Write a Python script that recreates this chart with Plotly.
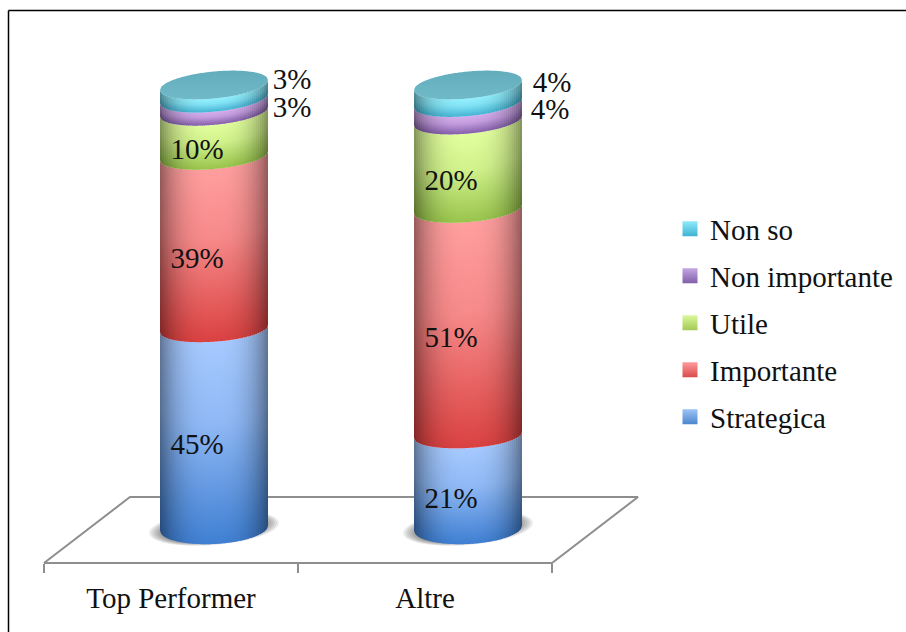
import numpy as np
import plotly.graph_objects as go

# Survey shares per group, stacked bottom to top
categories = ["Top Performer", "Altre"]
series_names = ["Strategica", "Importante", "Utile", "Non importante", "Non so"]
strategica = [45, 21]
importante = [39, 51]
utile = [10, 20]
non_importante = [3, 4]
non_so = [3, 4]
series_values = [strategica, importante, utile, non_importante, non_so]

# Shading per series: light (top of band) to dark (bottom of band)
light = ["#A6C9FF", "#FF9E9E", "#E2FF9E", "#D6AEEE", "#93F0FF"]
dark = ["#3F7FD2", "#DA4141", "#98C44C", "#8460AA", "#46B4D4"]
swatch_light = ["#9CC3F5", "#FF9B9B", "#D9F99B", "#C4A6E4", "#8DEBFB"]
swatch_dark = ["#4A86CE", "#D94A4A", "#A4C855", "#7F5FA8", "#3FB2D2"]

WIDTH, HEIGHT = 906, 632
PX_PER_UNIT = 4.43     # vertical pixels per percentage point
BAND_PX = 254          # horizontal pixels per category
X0_PX, Y0_PX = 171, 528
FLOOR_DX, FLOOR_DY = 86 / BAND_PX, 66 / PX_PER_UNIT
FRONT_Y = -35 / PX_PER_UNIT
DEPTH_SHIFT = 43 / BAND_PX
HALF_WIDTH = 54 / BAND_PX
N_STRIPS = 54
FONT = "Liberation Serif"
FONT_SIZE = 29
TEXT = "#111111"
AXIS_GRAY = "#8E8E8E"


def ry(v):
    return 16 - 3 * min(v / 20, 1) + 0.5 * max(v - 90, 0) / 10


def tilt(v):
    return 2.5 + 2.5 * v / 100


def front_edge(v, t):
    return v + (tilt(v) * t - ry(v) * np.sqrt(np.clip(1 - t ** 2, 0, 1))) / PX_PER_UNIT


def back_edge(v, t):
    return v + (tilt(v) * t + ry(v) * np.sqrt(np.clip(1 - t ** 2, 0, 1))) / PX_PER_UNIT


def rgb_of(hex_color):
    return np.array([int(hex_color[i:i + 2], 16) for i in (1, 3, 5)], dtype=float)


def shade(rgb, f):
    return "rgb(%d,%d,%d)" % tuple(int(round(c * f)) for c in rgb)


def brightness(t):
    return 1 - 0.42 * abs(t) ** 2.8


fig = go.Figure()

# Floor of the 3D plot area
fx = [-0.5, 1.5, 1.5 + FLOOR_DX, -0.5 + FLOOR_DX, -0.5]
fy = [FRONT_Y, FRONT_Y, FRONT_Y + FLOOR_DY, FRONT_Y + FLOOR_DY, FRONT_Y]
fig.add_trace(go.Scatter(x=fx, y=fy, mode="lines", line=dict(color=AXIS_GRAY, width=2),
                         hoverinfo="skip", showlegend=False))

for c in range(len(categories)):
    cx = c + DEPTH_SHIFT

    # Soft contact shadow under the cylinder
    for k in range(7):
        a = (65 - k * 2) / BAND_PX
        b = 17 - k * 0.5
        th = np.linspace(0, 2 * np.pi, 60)
        fig.add_trace(go.Scatter(
            x=cx + a * np.cos(th),
            y=(-b * np.sin(th) + 5 * np.cos(th)) / PX_PER_UNIT,
            mode="none", fill="toself", fillcolor="rgba(50,50,50,0.09)",
            hoverinfo="skip", showlegend=False))

    # Stacked cylinder bands, drawn as vertical strips for the curved shading
    base = 0
    edges = np.linspace(-1, 1, N_STRIPS + 1)
    for s, values in enumerate(series_values):
        top = base + values[c]
        lt, dk = rgb_of(light[s]), rgb_of(dark[s])
        mid_col = 0.78 * lt + 0.22 * dk
        for i in range(N_STRIPS):
            lo, hi = edges[i], min(edges[i + 1] + 0.012, 1)
            t = np.linspace(lo, hi, 4)
            xs = cx + t * HALF_WIDTH
            f = brightness((edges[i] + edges[i + 1]) / 2)
            fig.add_trace(go.Scatter(
                x=np.r_[xs, xs[::-1]],
                y=np.r_[front_edge(top, t), front_edge(base, t[::-1])],
                mode="none", fill="toself",
                fillgradient=dict(type="vertical", colorscale=[
                    [0, shade(dk, f)],
                    [0.6, shade(mid_col, f)],
                    [1, shade(lt, f)]]),
                hoverinfo="skip", showlegend=False))
        base = top

    # Top face
    t = np.linspace(-1, 1, 80)
    fig.add_trace(go.Scatter(
        x=cx + np.r_[t, t[::-1]] * HALF_WIDTH,
        y=np.r_[front_edge(base, t), back_edge(base, t[::-1])],
        mode="none", fill="toself",
        fillgradient=dict(type="vertical", colorscale=[[0, "#70B9C8"], [1, "#62ADBD"]]),
        hoverinfo="skip", showlegend=False))

# Value labels: large bands on the front of the cylinder, thin bands beside it
outside = {(0, 3): (78, 5), (0, 4): (78, -10), (1, 3): (82, 0), (1, 4): (84, -9)}
for s, values in enumerate(series_values):
    xs, ys, texts = [], [], []
    for c, val in enumerate(values):
        mid = sum(sv[c] for sv in series_values[:s]) + val / 2
        dx, dy = outside.get((c, s), (-17, ry(mid) + 5))
        xs.append(c + DEPTH_SHIFT + dx / BAND_PX)
        ys.append(mid - dy / PX_PER_UNIT)
        texts.append(f"{val}%")
    fig.add_trace(go.Scatter(x=xs, y=ys, text=texts, mode="text", textposition="middle center",
                             textfont=dict(family=FONT, size=FONT_SIZE, color=TEXT),
                             hoverinfo="skip", showlegend=False))

# Legend entries, topmost series first
for s in reversed(range(len(series_names))):
    name = series_names[s]
    fig.add_trace(go.Scatter(
        x=[None], y=[None], mode="markers", name=name, legendgroup=name,
        marker=dict(symbol="square", size=15, color=swatch_light[s],
                    gradient=dict(type="vertical", color=swatch_dark[s]),
                    line=dict(width=0))))

fig.update_layout(
    width=WIDTH, height=HEIGHT, autosize=False,
    margin=dict(l=0, r=0, t=0, b=0),
    paper_bgcolor="white", plot_bgcolor="white",
    font=dict(family=FONT, size=FONT_SIZE, color=TEXT),
    xaxis=dict(
        range=[-X0_PX / BAND_PX, (WIDTH - X0_PX) / BAND_PX],
        domain=[0, 1], anchor="free", position=(HEIGHT - 563) / HEIGHT,
        tickmode="array", tickvals=list(range(len(categories))), ticktext=categories,
        ticks="", showline=False, showgrid=False, zeroline=False,
        ticklabelstandoff=15,
        tickfont=dict(family=FONT, size=FONT_SIZE, color=TEXT),
        minor=dict(tickmode="array", tickvals=[-0.5, 0.5, 1.5], ticks="outside",
                   ticklen=9, tickwidth=2, tickcolor=AXIS_GRAY, showgrid=False),
    ),
    yaxis=dict(
        range=[(Y0_PX - HEIGHT) / PX_PER_UNIT, Y0_PX / PX_PER_UNIT],
        domain=[0, 1], visible=False,
    ),
    legend=dict(x=670 / WIDTH, y=1 - 203.5 / HEIGHT, xanchor="left", yanchor="top",
                traceorder="grouped", tracegroupgap=6.3, bgcolor="rgba(0,0,0,0)",
                font=dict(family=FONT, size=FONT_SIZE, color=TEXT)),
    shapes=[
        dict(type="line", xref="paper", yref="paper", x0=8.5 / WIDTH, x1=1,
             y0=1 - 10.5 / HEIGHT, y1=1 - 10.5 / HEIGHT, line=dict(color="black", width=1.5)),
        dict(type="line", xref="paper", yref="paper", x0=8.5 / WIDTH, x1=8.5 / WIDTH,
             y0=0, y1=1 - 10.5 / HEIGHT, line=dict(color="black", width=1.5)),
    ],
)

fig.write_html("out.html")
